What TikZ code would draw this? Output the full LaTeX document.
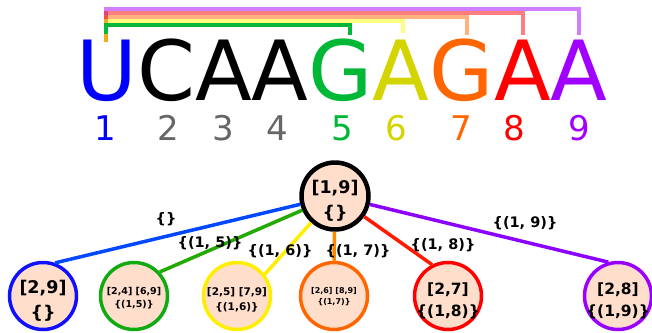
\documentclass[tikz,border=0pt]{standalone}
\usepackage{fontspec}
\setmainfont{DejaVu Sans}

% base colours
\definecolor{cblue}{HTML}{0000FF}
\definecolor{cgreen}{HTML}{00B835}
\definecolor{colive}{HTML}{D4D400}
\definecolor{corange}{HTML}{FF6600}
\definecolor{cred}{HTML}{FF0000}
\definecolor{cpurple}{HTML}{A000FF}
\definecolor{cgray}{HTML}{666666}
% pairing brackets
\definecolor{bpurple}{HTML}{A000FF}
\definecolor{bred}{HTML}{FF0000}
\definecolor{borange}{HTML}{FF6600}
\definecolor{byellow}{HTML}{FFFF00}
\definecolor{bgreen}{HTML}{00B835}
% tree
\definecolor{peach}{HTML}{FFDFCC}
\definecolor{eblue}{HTML}{0048FF}
\definecolor{egreen}{HTML}{22AA00}
\definecolor{eyellow}{HTML}{FFEE00}
\definecolor{eorange}{HTML}{FF8800}
\definecolor{ered}{HTML}{FF1A00}
\definecolor{epurple}{HTML}{8C00FF}
\definecolor{nblue}{HTML}{1010FF}
\definecolor{ngreen}{HTML}{11AA11}
\definecolor{nyellow}{HTML}{FFEE00}
\definecolor{norange}{HTML}{FF6600}
\definecolor{nred}{HTML}{FF0000}
\definecolor{npurple}{HTML}{9900FF}

\begin{document}
\begin{tikzpicture}[x=1pt,y=-1pt,
  letter/.style={anchor=base, inner sep=0pt, text depth=0pt,
                 font=\fontsize{83}{83}\selectfont},
  num/.style={anchor=base, inner sep=0pt, text depth=0pt,
              font=\fontsize{34}{34}\selectfont},
  bracket/.style={line width=4pt, line join=miter, line cap=butt},
  state/.style={circle, minimum size=67pt, inner sep=0pt, line width=3.5pt,
                fill=peach},
  stext/.style={inner sep=0pt, align=center},
  tedge/.style={line width=3.5pt},
  elbl/.style={inner sep=0pt, font=\bfseries\fontsize{14.5}{14.5}\selectfont}]
\useasboundingbox (0,0) rectangle (652,332);

% sequence
\node[letter, text=cblue]   (l1) at (106.8,100) {U};
\node[letter, text=black]   (l2) at (166.1,100) {C};
\node[letter, text=black]   (l3) at (223.5,100) {A};
\node[letter, text=black]   (l4) at (280.3,100) {A};
\node[letter, text=cgreen]  (l5) at (340.8,100) {G};
\node[letter, text=colive]  (l6) at (401.3,100) {A};
\node[letter, text=corange] (l7) at (461.9,100) {G};
\node[letter, text=cred]    (l8) at (522.5,100) {A};
\node[letter, text=cpurple] (l9) at (579.2,100) {A};

% positions
\node[num, text=cblue]   (n1) at (105,140) {1};
\node[num, text=cgray]   (n2) at (168.5,140) {2};
\node[num, text=cgray]   (n3) at (223,140) {3};
\node[num, text=cgray]   (n4) at (277,140) {4};
\node[num, text=cgreen]  (n5) at (342,140) {5};
\node[num, text=colive]  (n6) at (396,140) {6};
\node[num, text=corange] (n7) at (461,140) {7};
\node[num, text=cred]    (n8) at (514,140) {8};
\node[num, text=cpurple] (n9) at (579,140) {9};

% bracket end points above the letters
\coordinate (p1) at (106,42);
\coordinate (p1g) at (106,34);
\coordinate (p5) at (350,35);
\coordinate (p6) at (403,33);
\coordinate (p7) at (467,35);
\coordinate (p8) at (523,35);
\coordinate (p9) at (579,35);

% pairing brackets, outermost first
\draw[bracket, draw=bpurple, draw opacity=0.5] (p1) |- (579,9)  -- (p9);
\draw[bracket, draw=bred,    draw opacity=0.5] (p1) |- (523,13) -- (p8);
\draw[bracket, draw=borange, draw opacity=0.5] (p1) |- (467,17) -- (p7);
\draw[bracket, draw=byellow, draw opacity=0.5] (p1) |- (403,21) -- (p6);
\draw[bracket, draw=bgreen] (p1g) |- (350,25) -- (p5);

% tree states
\node[state, draw=black, line width=4.5pt] (root) at (335,196) {};
\node[state, draw=nblue]   (c1) at (43,296)  {};
\node[state, draw=ngreen]  (c2) at (134,296) {};
\node[state, draw=nyellow] (c3) at (237,296) {};
\node[state, draw=norange] (c4) at (334,296) {};
\node[state, draw=nred]    (c5) at (448,296) {};
\node[state, draw=npurple] (c6) at (618,296) {};

% state contents
\node[stext, font=\bfseries\fontsize{17.5}{25}\selectfont]
  (t0) at ([yshift=-4.5pt]root.center) {[1,9]\\\{\}};
\node[stext, font=\bfseries\fontsize{17.5}{25}\selectfont]
  (t1) at ([yshift=-5pt]c1.center) {[2,9]\\\{\}};
\node[stext, font=\bfseries\fontsize{9.5}{13}\selectfont]
  (t2) at ([yshift=-2.5pt]c2.center) {[2,4] [6,9]\\\{(1,5)\}};
\node[stext, font=\bfseries\fontsize{10.5}{15}\selectfont]
  (t3) at ([yshift=-4pt]c3.center) {[2,5] [7,9]\\\{(1,6)\}};
\node[stext, font=\bfseries\fontsize{8}{11}\selectfont]
  (t4) at ([yshift=-0.5pt]c4.center) {[2,6] [8,9]\\\{(1,7)\}};
\node[stext, font=\bfseries\fontsize{15.5}{22}\selectfont]
  (t5) at ([yshift=-4.5pt]c5.center) {[2,7]\\\{(1,8)\}};
\node[stext, font=\bfseries\fontsize{15.5}{22}\selectfont]
  (t6) at ([yshift=-4.5pt]c6.center) {[2,8]\\\{(1,9)\}};

% tree edges
\draw[tedge, eblue]   (root) -- (c1.70);
\draw[tedge, egreen]  (root) -- (c2.43);
\draw[tedge, eyellow] (root) -- (c3.38);
\draw[tedge, eorange] (root) -- (c4.90);
\draw[tedge, ered]    (root) -- (c5.117);
\draw[tedge, epurple] (root) -- (c6.106);

% edge labels
\node[elbl] (e1) at (166,219) {\{\}};
\node[elbl] (e2) at (210,243) {\{(1, 5)\}};
\node[elbl] (e3) at (280,251) {\{(1, 6)\}};
\node[elbl] (e4) at (358,251) {\{(1, 7)\}};
\node[elbl] (e5) at (443,245) {\{(1, 8)\}};
\node[elbl] (e6) at (525,223) {\{(1, 9)\}};
\end{tikzpicture}
\end{document}
